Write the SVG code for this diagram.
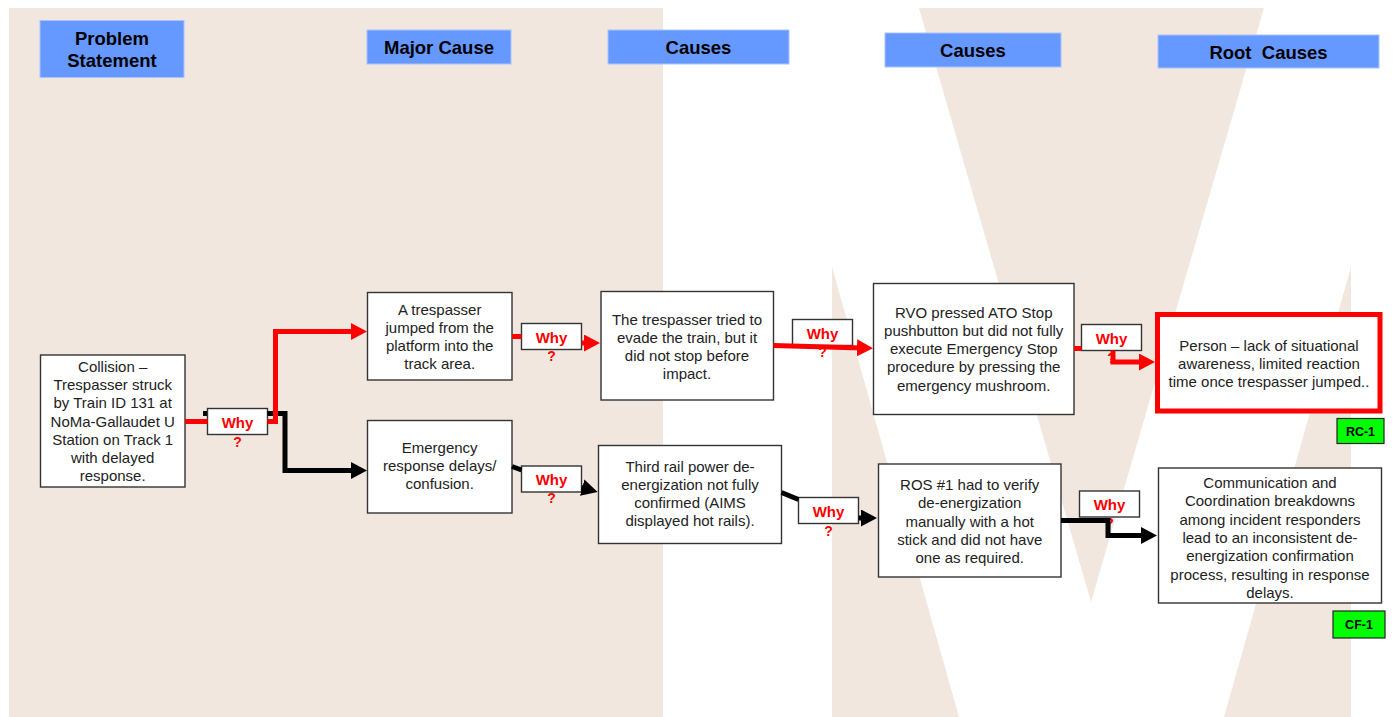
<svg xmlns="http://www.w3.org/2000/svg" width="1393" height="717" viewBox="0 0 1393 717">
<style>
.bg{fill:#F2E7DF}
.hdr rect{fill:#6699FF;stroke:#A8C2FF;stroke-width:1}
.hdr text{font-family:"Liberation Sans",Arial,sans-serif;font-weight:bold;font-size:18.5px;fill:#000;text-anchor:middle}
.node rect{fill:#fff;stroke:#333;stroke-width:1.4}
.node text{font-family:"Liberation Sans",Arial,sans-serif;font-size:15px;fill:#222;text-anchor:middle}
.why rect{fill:#fff;stroke:#333;stroke-width:1.4}
.why text{font-family:"Liberation Sans",Arial,sans-serif;font-weight:bold;font-size:15px;fill:#FF0000;text-anchor:middle}
.why text.q{font-size:14px}
.tag rect{fill:#00FF00;stroke:#222;stroke-width:1.2}
.tag text{font-family:"Liberation Sans",Arial,sans-serif;font-weight:bold;font-size:12.5px;fill:#000;text-anchor:middle}
.cr{fill:none;stroke:#FF0000;stroke-width:5}
.cb{fill:none;stroke:#000;stroke-width:5}
</style>
<defs>
<marker id="ahR" markerUnits="userSpaceOnUse" markerWidth="16" markerHeight="17" viewBox="0 0 16 17" refX="5" refY="8.5" orient="auto"><path d="M0,0 L16,8.5 L0,17 Z" fill="#FF0000"/></marker>
<marker id="ahB" markerUnits="userSpaceOnUse" markerWidth="16" markerHeight="17" viewBox="0 0 16 17" refX="5" refY="8.5" orient="auto"><path d="M0,0 L16,8.5 L0,17 Z" fill="#000"/></marker>
</defs>
<rect width="1393" height="717" fill="#fff"/>
<g id="background">
<rect class="bg" x="9" y="8" width="654" height="709"/>
<polygon class="bg" points="919,8 1264,8 1091,602"/>
<polygon class="bg" points="832,267 959,717 832,717"/>
<polygon class="bg" points="1351,267 1351,717 1224,717"/>
</g>
<g id="headers" class="hdr">
<g id="h-problem"><rect x="40" y="20.5" width="144" height="57"/><text x="112" y="44.5">Problem</text><text x="112" y="67">Statement</text></g>
<g id="h-major"><rect x="367" y="30" width="144" height="34"/><text x="439" y="53.5">Major Cause</text></g>
<g id="h-causes1"><rect x="608" y="30" width="181" height="34"/><text x="698.5" y="53.5">Causes</text></g>
<g id="h-causes2"><rect x="885" y="33" width="176" height="34"/><text x="973" y="56.5">Causes</text></g>
<g id="h-root"><rect x="1158" y="35" width="221" height="33"/><text x="1268.5" y="58.5" xml:space="preserve">Root  Causes</text></g>
</g>
<g id="nodes">
<g id="n-collision" class="node"><rect x="40.5" y="355" width="144.5" height="132"/>
<text x="112.7" y="372"><tspan x="112.7">Collision –</tspan><tspan x="112.7" dy="18.2">Trespasser struck</tspan><tspan x="112.7" dy="18.2">by Train ID 131 at</tspan><tspan x="112.7" dy="18.2">NoMa-Gallaudet U</tspan><tspan x="112.7" dy="18.2">Station on Track 1</tspan><tspan x="112.7" dy="18.2">with delayed</tspan><tspan x="112.7" dy="18.2">response.</tspan></text></g>
<g id="n-jumped" class="node"><rect x="367.5" y="292.5" width="144.5" height="87.5"/>
<text x="439.7" y="315"><tspan x="439.7">A trespasser</tspan><tspan x="439.7" dy="18">jumped from the</tspan><tspan x="439.7" dy="18">platform into the</tspan><tspan x="439.7" dy="18">track area.</tspan></text></g>
<g id="n-emergency" class="node"><rect x="367.5" y="420.5" width="144.5" height="92.5"/>
<text x="439.7" y="453.3"><tspan x="439.7">Emergency</tspan><tspan x="439.7" dy="18">response delays/</tspan><tspan x="439.7" dy="18">confusion.</tspan></text></g>
<g id="n-evade" class="node"><rect x="601" y="291.5" width="172.5" height="108.5"/>
<text x="687" y="324.5"><tspan x="687">The trespasser tried to</tspan><tspan x="687" dy="18">evade the train, but it</tspan><tspan x="687" dy="18">did not stop before</tspan><tspan x="687" dy="18">impact.</tspan></text></g>
<g id="n-thirdrail" class="node"><rect x="598.5" y="445.5" width="183" height="98"/>
<text x="690" y="471.7"><tspan x="690">Third rail power de-</tspan><tspan x="690" dy="18">energization not fully</tspan><tspan x="690" dy="18">confirmed (AIMS</tspan><tspan x="690" dy="18">displayed hot rails).</tspan></text></g>
<g id="n-rvo" class="node"><rect x="873.5" y="283.5" width="200.5" height="131"/>
<text x="973.7" y="317.7"><tspan x="973.7">RVO pressed ATO Stop</tspan><tspan x="973.7" dy="18.2">pushbutton but did not fully</tspan><tspan x="973.7" dy="18.2">execute Emergency Stop</tspan><tspan x="973.7" dy="18.2">procedure by pressing the</tspan><tspan x="973.7" dy="18.2">emergency mushroom.</tspan></text></g>
<g id="n-ros" class="node"><rect x="878.5" y="464" width="182.5" height="113"/>
<text x="969.7" y="490"><tspan x="969.7">ROS #1 had to verify</tspan><tspan x="969.7" dy="18.3">de-energization</tspan><tspan x="969.7" dy="18.3">manually with a hot</tspan><tspan x="969.7" dy="18.3">stick and did not have</tspan><tspan x="969.7" dy="18.3">one as required.</tspan></text></g>
<g id="n-person" class="node"><rect x="1157.5" y="314.5" width="222.5" height="96.5" style="stroke:#FF0000;stroke-width:5"/>
<text x="1269" y="351"><tspan x="1269">Person – lack of situational</tspan><tspan x="1269" dy="18">awareness, limited reaction</tspan><tspan x="1269" dy="18">time once trespasser jumped..</tspan></text></g>
<g id="n-comm" class="node"><rect x="1158.5" y="468" width="223" height="135"/>
<text x="1270" y="488"><tspan x="1270">Communication and</tspan><tspan x="1270" dy="18.3">Coordination breakdowns</tspan><tspan x="1270" dy="18.3">among incident responders</tspan><tspan x="1270" dy="18.3">lead to an inconsistent de-</tspan><tspan x="1270" dy="18.3">energization confirmation</tspan><tspan x="1270" dy="18.3">process, resulting in response</tspan><tspan x="1270" dy="18.3">delays.</tspan></text></g>
<g id="t-rc1" class="tag"><rect x="1337" y="418.5" width="47" height="25"/><text x="1360.5" y="435.5">RC-1</text></g>
<g id="t-cf1" class="tag"><rect x="1333" y="611" width="52" height="27"/><text x="1359" y="629">CF-1</text></g>
<g id="w1" class="why" transform="translate(207.5,408.5)"><rect width="60" height="26"/><text x="30" y="19.5">Why</text><text class="q" x="30" y="38">?</text></g>
<g id="w2" class="why" transform="translate(521.5,323.5)"><rect width="60" height="26"/><text x="30" y="19">Why</text><text class="q" x="30" y="37.5">?</text></g>
<g id="w3" class="why" transform="translate(521.5,466)"><rect width="60" height="26"/><text x="30" y="19">Why</text><text class="q" x="30" y="37">?</text></g>
<g id="w4" class="why" transform="translate(792.5,319.5)"><rect width="60" height="26"/><text x="30" y="19">Why</text><text class="q" x="30" y="37.5">?</text></g>
<g id="w5" class="why" transform="translate(1081.5,324.5)"><rect width="60" height="26"/><text x="30" y="19.5">Why</text><text class="q" x="30" y="38">?</text></g>
<g id="w6" class="why" transform="translate(798.5,497.5)"><rect width="60" height="26"/><text x="30" y="19.5">Why</text><text class="q" x="30" y="38">?</text></g>
<g id="w7" class="why" transform="translate(1079.5,491)"><rect width="60" height="26"/><text x="30" y="19">Why</text><text class="q" x="30" y="37">?</text></g>
</g>
<g id="connectors">
<path class="cb" d="M203,413.5 H207"/>
<path class="cb" d="M267.5,413.5 H285 V470.5 H356" marker-end="url(#ahB)"/>
<path class="cr" d="M185,421.5 H207.5"/>
<path class="cr" d="M267.5,421.5 H275.5 V331.5 H356" marker-end="url(#ahR)"/>
<path class="cr" d="M512,336.5 H521.5"/>
<path class="cr" d="M581.5,343 H589" marker-end="url(#ahR)"/>
<path class="cb" d="M512,466.5 L521.5,470"/>
<path class="cb" d="M581.5,487.5 L587,489" marker-end="url(#ahB)"/>
<path class="cr" d="M773.5,345.5 L862,348" marker-end="url(#ahR)"/>
<path class="cr" d="M1074,348.5 H1081.5"/>
<path class="cr" d="M1113,350.5 V362 H1144" marker-end="url(#ahR)"/>
<path class="cb" d="M781.5,492.5 L798.5,499.5"/>
<path class="cb" d="M858.5,518 H866" marker-end="url(#ahB)"/>
<path class="cb" d="M1061,520.5 H1108 V535.5 H1146" marker-end="url(#ahB)"/>
</g>
</svg>
